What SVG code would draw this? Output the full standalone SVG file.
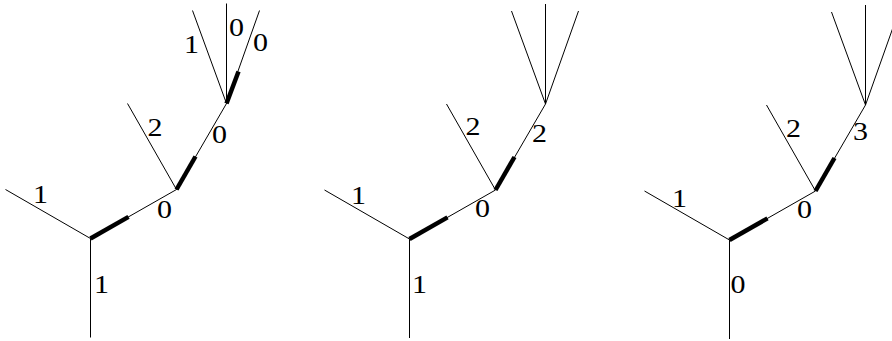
<svg xmlns="http://www.w3.org/2000/svg" width="892" height="341" viewBox="0 0 892 341">
<defs>
<style>
.e{stroke:#000;stroke-width:1;fill:none}
.t{stroke:#000;stroke-width:4.5;fill:none;stroke-linecap:butt}
</style>
<g id="edges">
<line class="e" x1="0" y1="0" x2="0" y2="99"/>
<line class="e" x1="0" y1="0" x2="-85" y2="-49"/>
<line class="e" x1="0" y1="0" x2="86" y2="-49"/>
<line class="t" x1="0" y1="0" x2="38" y2="-21.6"/>
<line class="e" x1="86" y1="-49" x2="37" y2="-135"/>
<line class="e" x1="86" y1="-49" x2="136" y2="-135"/>
<line class="t" x1="86" y1="-49" x2="105" y2="-82"/>
<line class="e" x1="136" y1="-135" x2="102" y2="-228"/>
<line class="e" x1="136" y1="-135" x2="136" y2="-235"/>
<line class="e" x1="136" y1="-135" x2="169" y2="-228"/>
</g>
</defs>
<g id="tree1" transform="translate(90.5,238.5)">
<g id="connectors1">
<use href="#edges"/>
<line class="t" x1="136" y1="-135" x2="148" y2="-167"/>
</g>
<g id="labels1" font-family="Liberation Serif, Times New Roman, serif" font-size="25" text-anchor="middle" fill="#000">
<text transform="translate(-50,-35.5) scale(1.2,1)">1</text>
<text transform="translate(74,-20.5) scale(1.2,1)">0</text>
<text transform="translate(64.5,-103) scale(1.2,1)">2</text>
<text transform="translate(129,-95.5) scale(1.2,1)">0</text>
<text transform="translate(11,54) scale(1.2,1)">1</text>
<text transform="translate(101,-185.5) scale(1.2,1)">1</text>
<text transform="translate(146,-202.5) scale(1.2,1)">0</text>
<text transform="translate(170,-188) scale(1.2,1)">0</text>
</g>
</g>
<g id="tree2" transform="translate(409.5,239)">
<g id="connectors2">
<use href="#edges"/>
</g>
<g id="labels2" font-family="Liberation Serif, Times New Roman, serif" font-size="25" text-anchor="middle" fill="#000">
<text transform="translate(-51,-35) scale(1.2,1)">1</text>
<text transform="translate(73,-22) scale(1.2,1)">0</text>
<text transform="translate(63.5,-104) scale(1.2,1)">2</text>
<text transform="translate(130,-97) scale(1.2,1)">2</text>
<text transform="translate(10,54) scale(1.2,1)">1</text>
</g>
</g>
<g id="tree3" transform="translate(729.5,240)">
<g id="connectors3">
<use href="#edges"/>
</g>
<g id="labels3" font-family="Liberation Serif, Times New Roman, serif" font-size="25" text-anchor="middle" fill="#000">
<text transform="translate(-50,-33) scale(1.2,1)">1</text>
<text transform="translate(75,-22) scale(1.2,1)">0</text>
<text transform="translate(64,-103) scale(1.2,1)">2</text>
<text transform="translate(131,-100) scale(1.2,1)">3</text>
<text transform="translate(8.5,53) scale(1.2,1)">0</text>
</g>
</g>
</svg>
